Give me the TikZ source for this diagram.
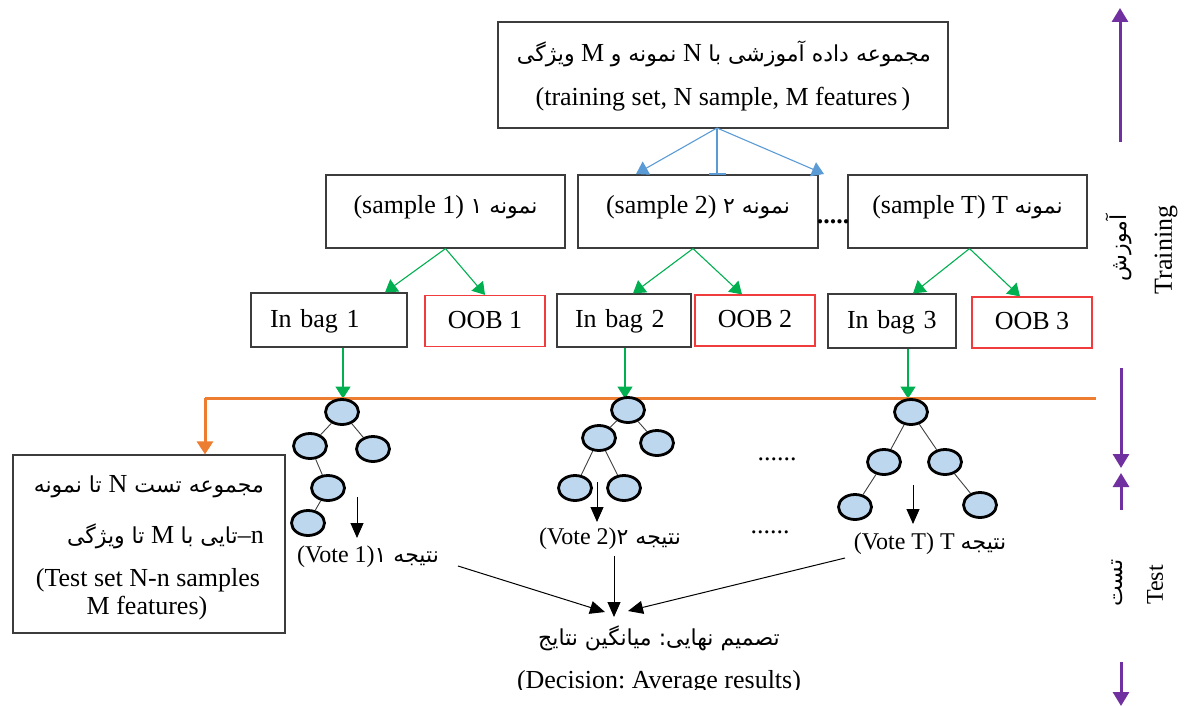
\documentclass[tikz,border=0pt]{standalone}
\usepackage{fontspec}
\setmainfont{Liberation Serif}
\newfontfamily\fa[Script=Arabic]{DejaVu Sans}
\TeXXeTstate=1
\frenchspacing
\usetikzlibrary{arrows.meta,shapes.geometric,calc}
\newcommand{\fs}{\fontsize{26}{30}\selectfont}
\newcommand{\vs}{\fontsize{24}{28}\selectfont}
\newcommand{\pers}[1]{{\fa\fontsize{22}{26}\selectfont\beginR #1\endR}}
\newcommand{\persv}[1]{{\fa\fontsize{22}{26}\selectfont\beginR #1\endR}}
\newcommand{\lat}[1]{{\rmfamily\fontsize{26}{30}\selectfont #1}}
\definecolor{boxgray}{RGB}{60,60,60}
\definecolor{oobred}{RGB}{240,60,60}
\definecolor{bluearr}{RGB}{91,155,213}
\definecolor{greenarr}{RGB}{0,176,80}
\definecolor{orangeln}{RGB}{237,125,49}
\definecolor{purp}{RGB}{112,48,160}
\definecolor{leaf}{RGB}{189,215,238}
\begin{document}
\begin{tikzpicture}[x=1pt,y=-1pt,
  box/.style={draw=boxgray,line width=1.2pt,inner sep=0pt,font=\fs},
  sbox/.style={box,minimum height=73pt,text height=14pt,text depth=11pt},
  ibag/.style={box,align=left,inner xsep=19pt,text width=#1,minimum height=54pt,text height=18pt,text depth=4pt},
  oob/.style={draw=oobred,line width=1.2pt,inner sep=0pt,font=\fs,minimum width=120pt,minimum height=51pt,text height=18pt,text depth=4pt},
  txt/.style={inner sep=0pt,font=\fs},
  vtxt/.style={inner sep=0pt,font=\vs},
  tn/.style={ellipse,draw=black,line width=2.8pt,fill=leaf,minimum width=33pt,minimum height=25pt,inner sep=0pt},
  te/.style={draw=black!75,line width=0.9pt},
  barr/.style={draw=bluearr,line width=1.1pt,-{Triangle[width=15pt,length=12pt]}},
  garr/.style={draw=greenarr,line width=1.1pt,-{Triangle[width=15pt,length=12pt]}},
  karr/.style={draw=black,line width=1pt,-{Triangle[width=13pt,length=15pt]}},
  parr/.style={draw=purp,line width=3pt,-{Triangle[width=16pt,length=14pt]}},
]
\useasboundingbox (0,0) rectangle (1185,706);

% top box
\node[box,minimum width=450pt,minimum height=106pt] (top) at (723,75) {};
\node[txt,anchor=base] (topfa) at (724,62) {\pers{ویژگی}\ \lat{M}\ \pers{نمونه و}\ \lat{N}\ \pers{مجموعه داده آموزشی با}};
\node[txt,anchor=base] (topen) at (723,106) {(training set, N sample, M features\,)};

% sample boxes
\node[sbox,minimum width=239pt] (s1) at (445.5,211.5) {(sample 1) \pers{نمونه ۱}};
\node[sbox,minimum width=240pt] (s2) at (698,211.5) {(sample 2) \pers{نمونه ۲}};
\node[sbox,minimum width=239pt] (s3) at (967.5,211.5) {(sample T) T \pers{نمونه}};
\node[txt,anchor=base] (dots1) at (833,223) {\textbf{.....}};

% blue arrows
\coordinate (bs) at (717,128);
\coordinate (bl) at (636,174);
\coordinate (bm) at (717,175);
\coordinate (br) at (824,174);
\draw[barr] (bs) -- (bl);
\draw[barr] (bs) -- (br);
\draw[draw=bluearr,line width=1.1pt,-{Bar[width=17pt,line width=2pt]}] (bs) -- (bm);

% bags
\node[ibag=118pt] (ib1) at (329,320) {In bag 1};
\node[oob] (oob1) at (485,321) {OOB 1};
\node[ibag=98pt,inner xsep=18pt,minimum height=53pt] (ib2) at (624,320.5) {In bag 2};
\node[oob] (oob2) at (755,320.5) {OOB 2};
\node[ibag=90pt] (ib3) at (892,321) {In bag 3};
\node[oob] (oob3) at (1032,322.5) {OOB 3};

% green arrows
\draw[garr] (s1.south) -- ($(ib1.north)+(56,0)$);
\draw[garr] (s1.south) -- (oob1.north);
\draw[garr] ($(s2.south)+(-5,0)$) -- ($(ib2.north)+(9,0)$);
\draw[garr] ($(s2.south)+(-5,0)$) -- ($(oob2.north)+(-13,0)$);
\draw[garr] ($(s3.south)+(2,0)$) -- ($(ib3.north)+(21,0)$);
\draw[garr] ($(s3.south)+(2,0)$) -- ($(oob3.north)+(-12,0)$);

% orange line
\coordinate (oL) at (205,398);
\coordinate (oR) at (1096,398);
\draw[garr] ($(ib1.south)+(14,0)$) -- ($(ib1.south)+(14,51)$);
\draw[garr] ($(ib2.south)+(1,0)$) -- ($(ib2.south)+(1,51)$);
\draw[garr] ($(ib3.south)+(16,0)$) -- ($(ib3.south)+(16,50)$);
\draw[draw=orangeln,line width=3pt] (oR) -- (oL);

% test box
\node[box,minimum width=272pt,minimum height=178pt] (test) at (149,544) {};
\draw[draw=orangeln,line width=3pt,-{Triangle[width=16pt,length=13pt]}] (oL) -- (oL |- test.north);
\node[txt,anchor=base east] (t1) at (264,492) {\pers{مجموعه تست \lat{N} تا نمونه}};
\node[txt,anchor=base east] (t2) at (264,543) {\pers{تا ویژگی}\ \lat{M}\ \pers{تایی با}\lat{–n}};
\node[txt,anchor=base] (t3) at (148,586) {(Test set N-n samples};
\node[txt,anchor=base] (t4) at (147,614) {M features)};

% tree 1
\node[tn] (r1) at (342,412) {};
\node[tn] (a1) at (310,446) {};
\node[tn] (b1) at (373,449) {};
\node[tn] (c1) at (328,488) {};
\node[tn] (e1) at (308,523) {};
\draw[te] (r1) -- (a1); \draw[te] (r1) -- (b1);
\draw[te] (a1) -- (c1); \draw[te] (c1) -- (e1);
\coordinate (v1a) at (357,497);
\coordinate (v1b) at (357,538);
\draw[karr] (v1a) -- (v1b);
\node[vtxt,anchor=base] (v1) at (368,562) {(Vote 1)\persv{نتیجه ۱}};

% tree 2
\node[tn] (r2) at (628,410) {};
\node[tn] (a2) at (599,438) {};
\node[tn] (b2) at (657,443) {};
\node[tn] (c2) at (575,488) {};
\node[tn] (d2) at (624,488) {};
\draw[te] (r2) -- (a2); \draw[te] (r2) -- (b2);
\draw[te] (a2) -- (c2); \draw[te] (a2) -- (d2);
\coordinate (v2a) at (597,482);
\coordinate (v2b) at (597,522);
\draw[karr] (v2a) -- (v2b);
\node[vtxt,anchor=base] (v2) at (610,544) {(Vote 2)\persv{نتیجه ۲}};

% tree T
\node[tn] (rT) at (911,412) {};
\node[tn] (aT) at (884,462) {};
\node[tn] (bT) at (945,462) {};
\node[tn] (cT) at (855,507) {};
\node[tn] (dT) at (980,505) {};
\draw[te] (rT) -- (aT); \draw[te] (rT) -- (bT);
\draw[te] (aT) -- (cT); \draw[te] (bT) -- (dT);
\coordinate (vTa) at (913,485);
\coordinate (vTb) at (913,524);
\draw[karr] (vTa) -- (vTb);
\node[vtxt,anchor=base] (vT) at (930,549) {(Vote T) T \persv{نتیجه}};

\node[txt,anchor=base] (dots2) at (777,460) {......};
\node[txt,anchor=base] (dots3) at (770,533) {......};

% decision
\node[txt,anchor=base] (dfa) at (659,645) {\pers{تصمیم نهایی: میانگین نتایج}};
\begin{scope}
\clip (0,0) rectangle (1185,689);
\node[txt,anchor=base] (den) at (659,688) {(Decision: Average results)};
\end{scope}
\coordinate (k1s) at (458,566);
\coordinate (k1e) at (605,612);
\coordinate (k2s) at (614,556);
\coordinate (k2e) at (614,617);
\coordinate (k3s) at (845,558);
\coordinate (k3e) at (628,611);
\draw[karr] (k1s) -- (k1e);
\draw[karr] (k2s) -- (k2e);
\draw[karr] (k3s) -- (k3e);

% right side
\coordinate (p1s) at (1120,142);
\coordinate (p1e) at (1120,8);
\coordinate (p2s) at (1121,368);
\coordinate (p2e) at (1121,468);
\coordinate (p3s) at (1121,510);
\coordinate (p3e) at (1121,473);
\coordinate (p4s) at (1121,662);
\coordinate (p4e) at (1121,706);
\draw[parr] (p1s) -- (p1e);
\draw[parr] (p2s) -- (p2e);
\draw[parr] (p3s) -- (p3e);
\draw[parr] (p4s) -- (p4e);
\node[txt,rotate=90] (trfa) at (1119,248) {\pers{آموزش}};
\node[txt,rotate=90] (tren) at (1166,250) {Training};
\node[txt,rotate=90] (tsfa) at (1117,583) {\pers{تست}};
\node[vtxt,rotate=90] (tsen) at (1155,585) {Test};
\end{tikzpicture}
\end{document}
